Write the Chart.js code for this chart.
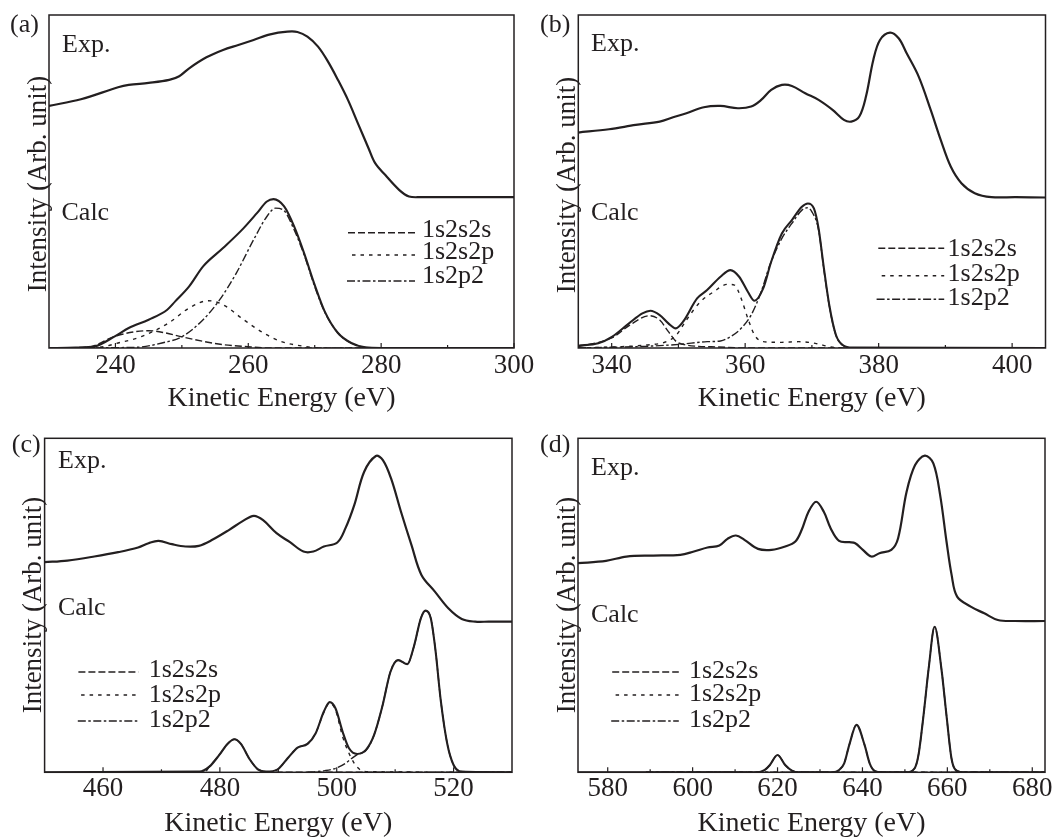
<!DOCTYPE html>
<html>
<head>
<meta charset="utf-8">
<script src="https://cdn.jsdelivr.net/npm/chart.js@4.4.1/dist/chart.umd.min.js"></script>
<style>
html,body{margin:0;padding:0;background:#fff;}
#wrap{position:relative;width:1055px;height:837px;overflow:hidden;background:#fff;}
#wrap canvas{position:absolute;left:0;top:0;}
</style>
</head>
<body>
<div id="wrap">
<canvas id="pa" width="1055" height="837"></canvas>
<canvas id="pb" width="1055" height="837"></canvas>
<canvas id="pc" width="1055" height="837"></canvas>
<canvas id="pd" width="1055" height="837"></canvas>
</div>
<script>
// ---------- Panel (a) ----------
const aExpE = [230,234.8,240.4,242,245,248.1,249.6,251.1,253.7,256.2,258.5,260.8,263.3,265.9,267.4,268.9,270.5,272,273.5,275,276.6,278.1,279.1,280.6,282.7,284.2,286,292,300];
const aExpI = [72.7,74.7,78.3,79,79.6,80.5,81.6,84,87.3,89.5,91,92.5,94.2,95,94.9,93.5,90.5,86,80.5,74.5,67,60,55.5,52,47.5,45.5,45.3,45.3,45.3];
const aCalcE = [230,234,236.9,239.9,242,245,247.8,249,251.1,253.2,256.2,259.3,261.3,262.8,263.8,265.4,266.9,268.4,269.9,271.5,273.5,275.5,277.6,280,300];
const aCalcI = [0,0.1,0.5,3.5,6,8.5,11.5,14,18.5,24.5,30,36,40.5,44,44.7,42.5,36.5,28.5,19.5,11,4.5,1.5,0.2,0,0];
const aS2sE = [230,235.9,239.9,243,245,247.6,250.1,253.2,256.2,259.3,263,300];
const aS2sI = [0,0.3,3.5,4.9,5.2,4.5,3.3,2,1,0.5,0,0];
const aS2pE = [230,237.4,240.4,244,248,251.1,254,256.2,259.3,262.3,264.9,268.4,271,300];
const aS2pI = [0,0.2,1.5,3.5,7.5,12,14.2,13,8.5,4.5,2,0.5,0,0];
const aP2E = [230,243,247,250.1,253.2,255.7,258.2,260.8,262.8,264.1,265.4,266.9,268.4,269.9,271.5,273.5,275.5,277.6,280,300];
const aP2I = [0,0.2,1.5,3.5,8.5,14.5,22.5,32.5,39.5,42,41.2,35.5,28,19,10.8,4.5,1.5,0.2,0,0];
const aTicks = [240,250,260,270,280,290,300];
const aTickLabels = [240,260,280,300];

// ---------- Panel (b) ----------
const bExpE = [335,339.6,343.6,347.2,349.2,351.2,353.8,356.3,358.9,360.9,362.4,363.9,365.5,367,369,371,373.1,374.8,375.9,377.1,378.1,379.2,380.2,381.7,383,384.2,386,387.8,389.3,390.8,392.4,394.4,396.9,400.5,405];
const bExpI = [64.7,65.7,67,68,69.3,70.5,72.3,72.7,72,72.5,74.5,77.5,79,78.7,76.5,74.5,71.5,68.5,68,69.5,75.5,86.5,92.5,94.7,93,88.5,81.5,71.5,62.5,54.5,49.5,46.5,45.3,45.3,45.2];
const bCalcE = [335,338,340.1,342.6,344.6,345.8,347.2,348.5,349.6,350.7,352.8,354.3,356.3,357.8,359.1,360.4,361.4,362.7,363.9,365.5,367,368.5,369.4,370.3,371,371.8,372.6,373.6,374.6,376.1,405];
const bCalcI = [0.7,1.4,3.4,7.4,10.4,11.2,9.9,7.4,5.9,7.9,14.9,17.4,21.4,23.4,21.4,16.9,14.2,17.9,25.9,34.4,38.4,42.4,43.4,41.9,35.9,23.9,12.9,3.9,0.9,0.1,0];
const bS2sE = [335,340.1,342.6,345.7,347.2,348.5,349.7,351.2,353,356,360,405];
const bS2sI = [0.4,3.1,6.7,9.7,8.4,4.9,1.9,0.9,0.5,0.3,0,0];
const bS2pE = [335,340,345.2,348.2,349.7,351.2,353.3,355.3,357.3,358.4,359.4,360.4,361.4,362.7,365.5,368,370.5,372.6,374,405];
const bS2pI = [0,0.3,0.9,1.9,3.9,8.4,13.9,16.9,19.1,18.9,14.9,8.9,3.9,1.9,1.7,1.9,1.4,0.4,0,0];
const bP2E = [335,345,350.2,354.3,356.3,357.8,359.4,360.9,362.4,363.7,365.5,367,368.5,369.3,370,371,371.8,372.6,373.6,374.6,376.1,405];
const bP2I = [0,0.5,1.1,1.9,2.1,3.4,5.9,9.9,16.9,24.9,32.9,37.4,41.4,42.1,40.9,35.5,23.5,12.7,3.8,0.9,0,0];
const bTicks = [340,350,360,370,380,390,400];
const bTickLabels = [340,360,380,400];

// ---------- Panel (c) ----------
const cExpE = [450,453.9,458.5,462.6,466,467.8,469.5,471.8,474.1,476.4,478.7,481.6,483.9,485.8,487.4,489.7,492,494.3,496,497.8,500.1,501.5,503,504.7,506.7,507.9,509.3,511,512.8,514.5,516.8,519.1,521.4,523.7,526,530];
const cExpI = [62.9,63.4,64.6,65.9,67.3,68.6,69.3,68.3,67.6,67.8,69.6,72.6,75.2,76.8,75.5,71.6,68.9,66.1,66.1,67.6,68.8,73.1,80,90,94.7,93.5,88,78,68,59.1,54.1,49.1,45.9,45.1,45.1,45.1];
const cCalcE = [450,476.5,478.2,479.9,481.3,482.5,483.6,485.1,486.5,487.9,489.9,491.6,493.3,495,496.4,497.8,498.8,499.8,501,502.1,503.5,505,506.4,507.8,509.2,510.5,512.1,513.2,514.4,515.2,516.1,516.9,517.8,518.9,520,521.4,530];
const cCalcI = [0,0.2,1.7,5.2,8.5,9.9,8.5,3.9,0.9,0.2,0.9,4.2,7.4,8.5,11.7,18.2,21,19.1,12.2,7.2,5.5,6.7,11.2,19.7,30.1,33.6,32.4,37.6,46.1,48.4,46.1,36.6,21.6,8.7,2.2,0.2,0];
const cS2sE = [476,477.5,478.2,479.9,481.3,482.5,483.6,485.1,486.5,487.9,490,530];
const cS2sI = [0,0.2,1.7,5.2,8.5,9.9,8.5,3.9,0.9,0.2,0,0];
const cS2pE = [488,489.9,491.6,493.3,495,496.4,497.8,498.8,499.8,501,502.1,503,503.9,505,530];
const cS2pI = [0,0.9,4.2,7.4,8.5,11.7,18,20.7,18.6,10.7,5.7,2.7,0.9,0.2,0];
const cP2E = [495,498,499.8,501.5,502.6,503.5,505,506.4,507.8,509.2,510.5,512.1,513.2,514.4,515.2,516.1,516.9,517.8,518.9,520,521.4,530];
const cP2I = [0,0.5,1.2,2.7,4.2,5.3,6.5,11.2,19.7,30.1,33.6,32.4,37.6,46.1,48.4,46.1,36.6,21.6,8.7,2.2,0.2,0];
const cTicks = [460,470,480,490,500,510,520];
const cTickLabels = [460,480,500,520];

// ---------- Panel (d) ----------
const dExpE = [573,579.6,584.4,590.7,597.1,600.3,603.5,606.3,608.2,610.2,612.2,615.4,618.6,621.8,624.2,625.7,627.3,629.1,630.9,632.5,634.5,636.9,638.3,640.1,642.1,644,646.8,648.4,650.4,652.4,654.7,656.7,658.3,659.8,661,662.3,665.5,668.7,671.9,675.9,683];
const dExpI = [62.6,63.3,64.6,64.9,65.1,66.1,67.3,67.9,69.9,70.9,69.6,66.9,66.6,67.6,69.1,72.6,78,81,78,73.1,69.3,68.9,68.6,66.6,64.6,65.6,66.6,70.1,84,92,94.8,92.5,83,69.1,59.1,52.6,49.6,47.6,45.6,45.3,45.3];
const dCalcE = [573,615.5,617,618.2,620,621.8,623.4,625,633,634.5,635.7,636.9,638.6,640.5,641.7,642.9,644.5,650.5,652.3,653.2,654.4,655.6,657,658.6,659.8,661,662.3,664,683];
const dCalcI = [0,0,0.7,2.2,5.2,2.2,0.5,0,0,0.7,2.7,8.2,14.2,8.2,2.7,0.4,0,0,1.2,5.2,17.2,31.1,43.6,31,17,4,0.4,0,0];
const dS2sE = [589,615.5,617,618.2,620,621.8,623.4,625,683];
const dS2sI = [0,0,0.7,2.2,5.2,2.2,0.5,0,0];
const dS2pE = [589,633,634.5,635.7,636.9,638.6,640.5,641.7,642.9,644.5,683];
const dS2pI = [0,0,0.7,2.7,8.2,14.2,8.2,2.7,0.4,0,0];
const dP2E = [589,650.5,652.3,653.2,654.4,655.6,657,658.6,659.8,661,662.3,664,683];
const dP2I = [0,0,1.2,5.2,17.2,31.1,43.6,31,17,4,0.4,0,0];
const dTicks = [580,590,600,610,620,630,640,650,660,670,680];
const dTickLabels = [580,600,620,640,660,680];

// ---------- Texts ----------
const legendLabels = ['1s2s2s','1s2s2p','1s2p2'];
const xTitle = 'Kinetic Energy (eV)';
const yTitle = 'Intensity (Arb. unit)';
const expLabel = 'Exp.';
const calcLabel = 'Calc';

// ---------- Style ----------
const INK = '#231f20';
const SERIF = "'Liberation Serif', 'Times New Roman', serif";
const DASHES = [[7,3],[3.5,5],[8,2.5,2.5,2.5]];

const decor = {
  id: 'decor',
  afterDraw(chart, args, o) {
    const ctx = chart.ctx, a = chart.chartArea, xs = chart.scales.x;
    ctx.save();
    ctx.strokeStyle = INK; ctx.fillStyle = INK;
    ctx.setLineDash([]);
    ctx.lineWidth = 1.2;
    xs.ticks.forEach(t => {
      const x = xs.getPixelForValue(t.value);
      const len = o.labels.includes(t.value) ? 5 : 3;
      ctx.beginPath(); ctx.moveTo(x, a.bottom); ctx.lineTo(x, a.bottom - len); ctx.stroke();
    });
    ctx.lineWidth = 1.5;
    ctx.strokeRect(a.left, a.top, a.right - a.left, a.bottom - a.top);
    ctx.textAlign = 'left'; ctx.textBaseline = 'alphabetic';
    ctx.font = '26px ' + SERIF;
    ctx.fillText(o.panel, o.panelPos[0], o.panelPos[1]);
    ctx.fillText(expLabel, o.expPos[0], o.expPos[1]);
    ctx.fillText(calcLabel, o.calcPos[0], o.calcPos[1]);
    legendLabels.forEach((lab, i) => {
      ctx.setLineDash(DASHES[i]); ctx.lineWidth = 1.5;
      ctx.beginPath(); ctx.moveTo(o.legX1[i], o.legLineY[i]); ctx.lineTo(o.legX2, o.legLineY[i]); ctx.stroke();
      ctx.setLineDash([]);
      ctx.fillText(lab, o.legTextX, o.legTextY[i]);
    });
    ctx.save();
    ctx.translate(a.left - 3.5, o.yTitleY);
    ctx.rotate(-Math.PI / 2);
    ctx.textAlign = 'center';
    ctx.font = '27px ' + SERIF;
    ctx.fillText(yTitle, 0, 0);
    ctx.restore();
    ctx.restore();
  }
};

function series(E, I, dash, w, smooth) {
  const d = {
    data: E.map((x, i) => ({x: x, y: I[i]})),
    borderColor: INK, backgroundColor: INK, borderWidth: w, borderDash: dash,
    pointRadius: 0, fill: false
  };
  if (smooth) { d.tension = 0.35; } else { d.cubicInterpolationMode = 'monotone'; }
  return d;
}

function panel(id, p) {
  return new Chart(document.getElementById(id), {
    type: 'line',
    data: {
      datasets: [
        series(p.expE, p.expI, [], 2.2, true),
        series(p.calcE, p.calcI, [], 2.1, false),
        series(p.s2sE, p.s2sI, DASHES[0], 1.4, false),
        series(p.s2pE, p.s2pI, DASHES[1], 1.4, false),
        series(p.p2E, p.p2I, DASHES[2], 1.4, false)
      ]
    },
    options: {
      responsive: false, animation: false, devicePixelRatio: 1,
      layout: { padding: { left: p.L, right: 1055 - p.R, top: p.T, bottom: 837 - p.B - p.xh } },
      plugins: {
        legend: { display: false }, tooltip: { enabled: false },
        decor: {
          labels: p.labels, panel: p.panel, panelPos: p.panelPos, expPos: p.expPos, calcPos: p.calcPos,
          legX1: p.legX1, legX2: p.legX2, legTextX: p.legTextX, legLineY: p.legLineY, legTextY: p.legTextY,
          yTitleY: p.yTitleY
        }
      },
      scales: {
        x: {
          type: 'linear', min: p.min, max: p.max,
          afterBuildTicks: s => { s.ticks = p.ticks.map(v => ({ value: v })); },
          afterFit: s => { s.height = p.xh; s.paddingLeft = 0; s.paddingRight = 0; },
          grid: { display: false, drawTicks: false },
          border: { display: false },
          ticks: {
            autoSkip: false, maxRotation: 0, minRotation: 0, padding: p.tp, color: INK,
            font: { family: SERIF, size: 27, lineHeight: 1 },
            callback: v => p.labels.includes(v) ? String(v) : ''
          },
          title: {
            display: true, text: xTitle, color: INK,
            font: { family: SERIF, size: 28, lineHeight: 0.8 },
            padding: { top: 0, bottom: p.pb }
          }
        },
        y: { display: false, min: 0, max: 100 }
      }
    },
    plugins: [decor]
  });
}

panel('pa', {
  expE: aExpE, expI: aExpI, calcE: aCalcE, calcI: aCalcI, s2sE: aS2sE, s2sI: aS2sI,
  s2pE: aS2pE, s2pI: aS2pI, p2E: aP2E, p2I: aP2I, ticks: aTicks, labels: aTickLabels,
  min: 230, max: 300, L: 49, R: 514, T: 15, B: 348, xh: 70, tp: 4, pb: 8.2,
  panel: '(a)', panelPos: [10, 32], expPos: [62, 52], calcPos: [61.5, 220],
  legX1: [348, 352, 347], legX2: 415, legTextX: 422, legLineY: [232.7, 255, 281], legTextY: [236.7, 259.3, 283.3],
  yTitleY: 184
});
panel('pb', {
  expE: bExpE, expI: bExpI, calcE: bCalcE, calcI: bCalcI, s2sE: bS2sE, s2sI: bS2sI,
  s2pE: bS2pE, s2pI: bS2pI, p2E: bP2E, p2I: bP2I, ticks: bTicks, labels: bTickLabels,
  min: 335, max: 405, L: 578.3, R: 1045.5, T: 15, B: 348, xh: 70, tp: 4, pb: 8.2,
  panel: '(b)', panelPos: [540, 32], expPos: [591, 51], calcPos: [591, 220],
  legX1: [878.3, 881.7, 876.6], legX2: 944.2, legTextX: 947.6, legLineY: [248.3, 275.7, 299.3], legTextY: [256, 281, 305],
  yTitleY: 185
});
panel('pc', {
  expE: cExpE, expI: cExpI, calcE: cCalcE, calcI: cCalcI, s2sE: cS2sE, s2sI: cS2sI,
  s2pE: cS2pE, s2pI: cS2pI, p2E: cP2E, p2I: cP2I, ticks: cTicks, labels: cTickLabels,
  min: 450, max: 530, L: 44.6, R: 512, T: 438.3, B: 772.3, xh: 64.7, tp: 3.3, pb: 1.9,
  panel: '(c)', panelPos: [11.8, 452], expPos: [58, 468], calcPos: [58, 615],
  legX1: [78.4, 81.1, 77.8], legX2: 138.6, legTextX: 148.7, legLineY: [672, 695, 721], legTextY: [677, 701.5, 726.7],
  yTitleY: 605
});
panel('pd', {
  expE: dExpE, expI: dExpI, calcE: dCalcE, calcI: dCalcI, s2sE: dS2sE, s2sI: dS2sI,
  s2pE: dS2pE, s2pI: dS2pI, p2E: dP2E, p2I: dP2I, ticks: dTicks, labels: dTickLabels,
  min: 573, max: 683, L: 578, R: 1045, T: 438.3, B: 772.3, xh: 64.7, tp: 3.3, pb: 1.9,
  panel: '(d)', panelPos: [540, 452], expPos: [591, 475], calcPos: [591, 622],
  legX1: [612.2, 615.6, 611.2], legX2: 678.8, legTextX: 689, legLineY: [672, 695, 721], legTextY: [678, 701, 727],
  yTitleY: 605
});
</script>
</body>
</html>
